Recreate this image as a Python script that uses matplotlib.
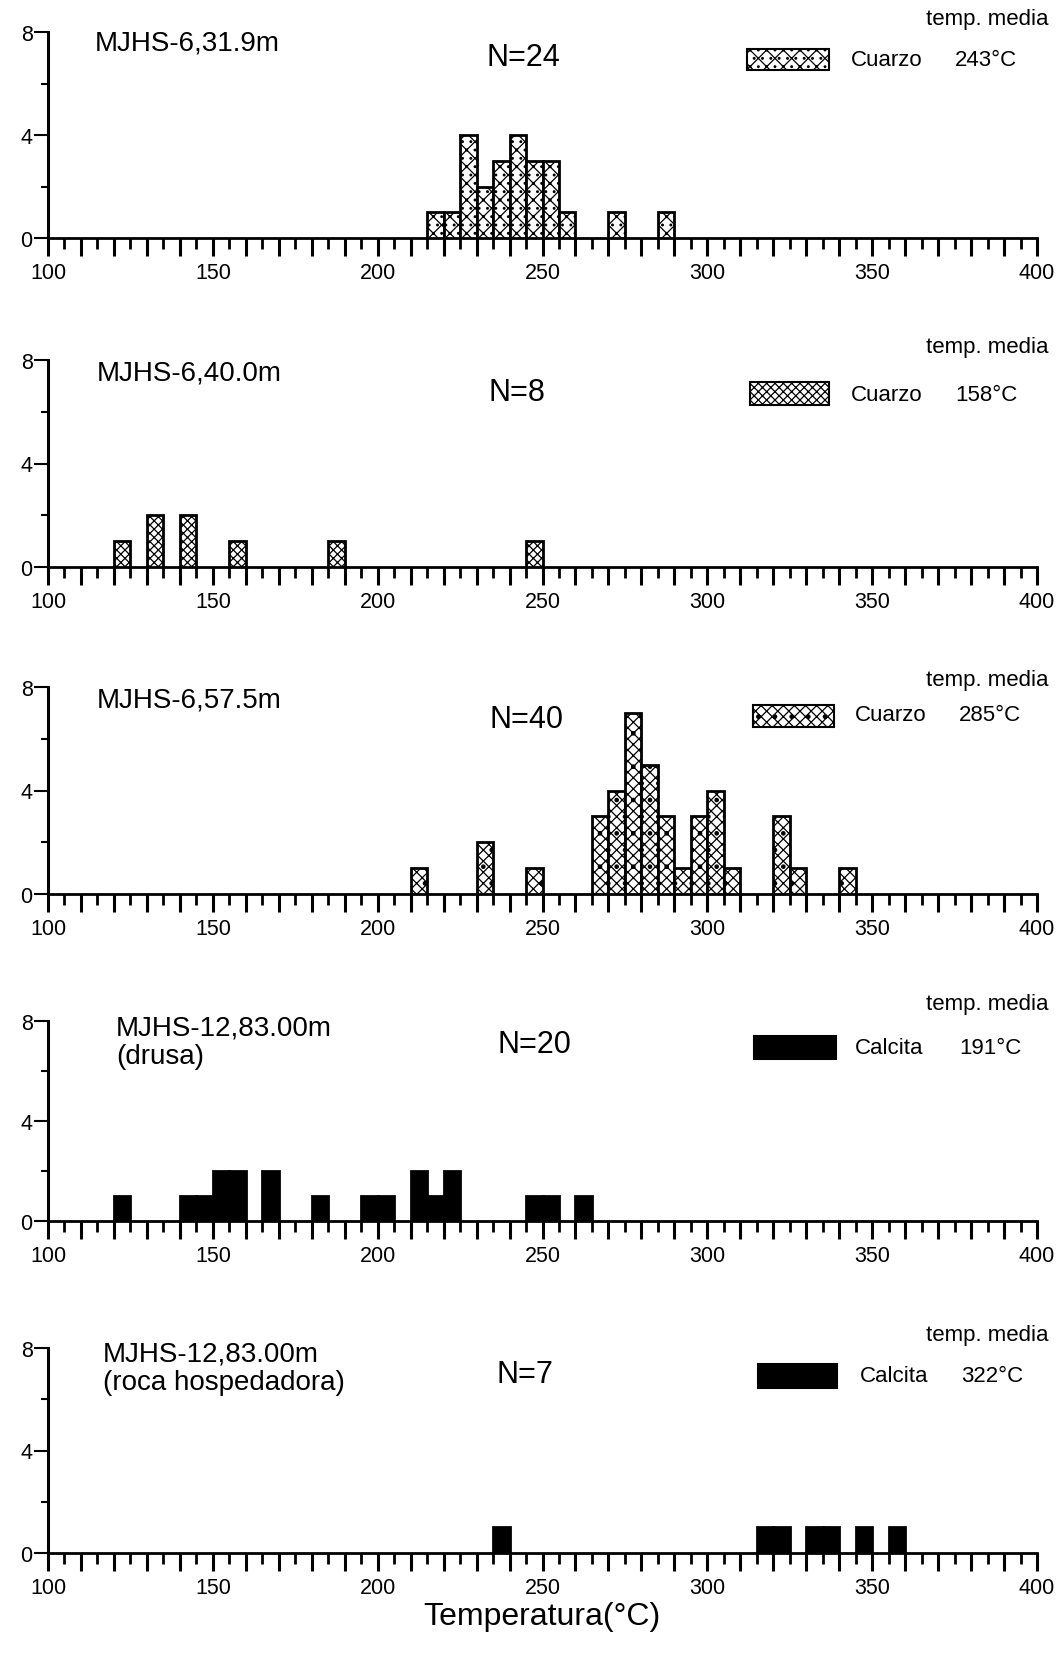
import matplotlib
matplotlib.use("Agg")
import matplotlib.pyplot as plt
from matplotlib.patches import Rectangle
from matplotlib.ticker import MultipleLocator, FixedLocator, FuncFormatter

plt.rcParams['font.family'] = ['Liberation Sans', 'DejaVu Sans']
plt.rcParams['hatch.linewidth'] = 0.9

# ---------------- data ----------------
titles = ["MJHS-6,31.9m", "MJHS-6,40.0m", "MJHS-6,57.5m",
          "MJHS-12,83.00m\n(drusa)", "MJHS-12,83.00m\n(roca hospedadora)"]
n_labels = ["N=24", "N=8", "N=40", "N=20", "N=7"]
minerals = ["Cuarzo", "Cuarzo", "Cuarzo", "Calcita", "Calcita"]
mean_temps = ["243°C", "158°C", "285°C", "191°C", "322°C"]

# bin left edges (°C, 5 °C bins) and counts
bins1 = [215, 220, 225, 230, 235, 240, 245, 250, 255, 270, 285]
counts1 = [1, 1, 4, 2, 3, 4, 3, 3, 1, 1, 1]

bins2 = [120, 130, 140, 155, 185, 245]
counts2 = [1, 2, 2, 1, 1, 1]

bins3 = [210, 230, 245, 265, 270, 275, 280, 285, 290, 295, 300, 305, 320, 325, 340]
counts3 = [1, 2, 1, 3, 4, 7, 5, 3, 1, 3, 4, 1, 3, 1, 1]

bins4 = [120, 140, 145, 150, 155, 165, 180, 195, 200, 210, 215, 220, 245, 250, 260]
counts4 = [1, 1, 1, 2, 2, 2, 1, 1, 1, 2, 1, 2, 1, 1, 1]

bins5 = [235, 315, 320, 330, 335, 345, 355]
counts5 = [1, 1, 1, 1, 1, 1, 1]

all_bins = [bins1, bins2, bins3, bins4, bins5]
all_counts = [counts1, counts2, counts3, counts4, counts5]

x_ticks_labeled = [100, 150, 200, 250, 300, 350, 400]
y_ticks_labeled = [0, 4, 8]
x_label = "Temperatura(°C)"
legend_header = "temp. media"

# ---------------- layout (pixels in a 1060x1656 canvas) ----------------
W, H = 1060, 1656
x_left, x_right = 48, 1037
panel_rows = [(33, 239), (361, 568), (688, 895), (1022, 1222), (1349, 1554)]
title_pos = [(95, 43), (97, 374), (97, 701), (116, 1043), (103, 1369)]
n_pos = [(523, 58), (517, 393), (526, 720), (534, 1045), (525, 1375)]
hdr_y = [19, 348, 681, 1005, 1335]
box_pos = [(747, 50, 829, 71), (750, 383, 829, 406), (753, 706, 834, 728),
           (754, 1037, 836, 1060), (758, 1365, 837, 1389)]
mat_pos = [(851, 61), (851, 396), (855, 716), (855, 1048), (860, 1377)]
tmp_pos = [(955, 61), (955, 396), (959, 716), (959, 1048), (961, 1377)]
styles = [dict(facecolor='white', hatch='xx..'),
          dict(facecolor='white', hatch='xxxx'),
          dict(facecolor='white', hatch='xxx.'),
          dict(facecolor='black', hatch=None),
          dict(facecolor='black', hatch=None)]

fig = plt.figure(figsize=(W / 100, H / 100), dpi=100)


def fx(x):
    return x / W


def fy(y):
    return 1 - y / H


for i, (top, base) in enumerate(panel_rows):
    ax = fig.add_axes([fx(x_left), fy(base), (x_right - x_left) / W, (base - top) / H])
    st = styles[i]
    ax.bar(all_bins[i], all_counts[i], width=5, align='edge',
           facecolor=st['facecolor'], edgecolor='black', linewidth=2.0,
           hatch=st['hatch'], zorder=3)
    ax.set_xlim(100, 400)
    ax.set_ylim(0, 8)
    for s in ['top', 'right']:
        ax.spines[s].set_visible(False)
    ax.spines['left'].set_linewidth(2.2)
    ax.spines['bottom'].set_linewidth(2.0)
    ax.xaxis.set_major_locator(MultipleLocator(10))
    ax.xaxis.set_minor_locator(MultipleLocator(5))
    ax.xaxis.set_major_formatter(FuncFormatter(
        lambda v, p: f"{int(round(v))}" if int(round(v)) in x_ticks_labeled else ""))
    ax.yaxis.set_major_locator(FixedLocator(y_ticks_labeled))
    ax.yaxis.set_minor_locator(FixedLocator([2, 6]))
    ax.tick_params(axis='x', which='major', direction='out', length=13, width=2.2,
                   labelsize=15.5, pad=4)
    ax.tick_params(axis='x', which='minor', direction='out', length=8, width=2.0)
    ax.tick_params(axis='y', which='major', direction='out', length=10, width=1.5,
                   labelsize=15.5, pad=1)
    ax.tick_params(axis='y', which='minor', direction='out', length=5, width=1.5)
    ax.set_facecolor('none')

    fig.text(fx(title_pos[i][0]), fy(title_pos[i][1]), titles[i], fontsize=20,
             ha='left', va='center', linespacing=1.12)
    fig.text(fx(n_pos[i][0]), fy(n_pos[i][1]), n_labels[i], fontsize=22,
             ha='center', va='center')
    fig.text(fx(1048), fy(hdr_y[i]), legend_header, fontsize=16,
             ha='right', va='center')
    x0, y0, x1, y1 = box_pos[i]
    fig.patches.append(Rectangle((fx(x0), fy(y1)), (x1 - x0) / W, (y1 - y0) / H,
                                 transform=fig.transFigure, facecolor=st['facecolor'],
                                 edgecolor='black', linewidth=1.5, hatch=st['hatch']))
    fig.text(fx(mat_pos[i][0]), fy(mat_pos[i][1]), minerals[i], fontsize=16,
             ha='left', va='center')
    fig.text(fx(tmp_pos[i][0]), fy(tmp_pos[i][1]), mean_temps[i], fontsize=16,
             ha='left', va='center')

fig.text(fx(542), fy(1617), x_label, fontsize=23, ha='center', va='center')

fig.savefig("out.png", dpi=100, facecolor='white')
